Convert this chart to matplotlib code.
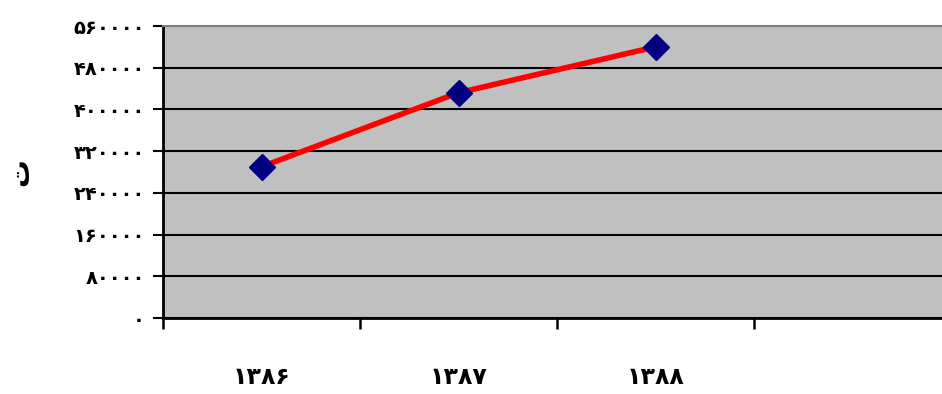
import matplotlib
matplotlib.use("Agg")
import matplotlib.pyplot as plt
from matplotlib.ticker import FixedLocator, FuncFormatter

# Data
years = ["۱۳۸۶", "۱۳۸۷", "۱۳۸۸"]
values = [290000, 432000, 520000]
y_ticks = [0, 80000, 160000, 240000, 320000, 400000, 480000, 560000]
y_label = "ت"

PERSIAN = str.maketrans("0123456789", "۰۱۲۳۴۵۶۷۸۹")


def to_persian(v, _pos=None):
    return str(int(round(v))).translate(PERSIAN)


fig = plt.figure(figsize=(9.42, 3.94), dpi=100)
ax = fig.add_axes([163 / 942, 76 / 394, 788 / 942, 292 / 394])
ax.set_facecolor("#C0C0C0")

x = list(range(1, len(years) + 1))
ax.plot(x, values, color="#FF0000", linewidth=4, zorder=3,
        marker="D", markersize=13, markerfacecolor="#000080",
        markeredgecolor="#000080")

ax.set_xlim(0.5, 4.5)
ax.set_ylim(0, 560000)

# y axis
ax.yaxis.set_major_locator(FixedLocator(y_ticks))
ax.yaxis.set_major_formatter(FuncFormatter(to_persian))
ax.yaxis.grid(True, color="black", linewidth=1.5)
ax.set_axisbelow(True)
ax.tick_params(axis="y", direction="out", length=7, width=1.5, pad=6,
               labelsize=14, color="black")
for t in ax.get_yticklabels():
    t.set_fontweight("bold")

# x axis: labels at category centres, tick marks at category boundaries
ax.set_xticks(x)
ax.set_xticklabels(years, fontsize=17, fontweight="bold")
ax.tick_params(axis="x", which="major", length=0, pad=34)
ax.set_xticks([0.5, 1.5, 2.5, 3.5, 4.5], minor=True)
ax.tick_params(axis="x", which="minor", direction="out", length=8, width=1.8,
               color="black")

for side in ("left", "bottom"):
    ax.spines[side].set_color("black")
    ax.spines[side].set_linewidth(2)
ax.spines["top"].set_color("#808080")
ax.spines["top"].set_linewidth(1.5)
ax.spines["right"].set_visible(False)

fig.text(20 / 942, 1 - 172 / 394, y_label, rotation=90, fontsize=20,
         fontweight="bold", ha="center", va="center")

fig.savefig("out.png", dpi=100)
